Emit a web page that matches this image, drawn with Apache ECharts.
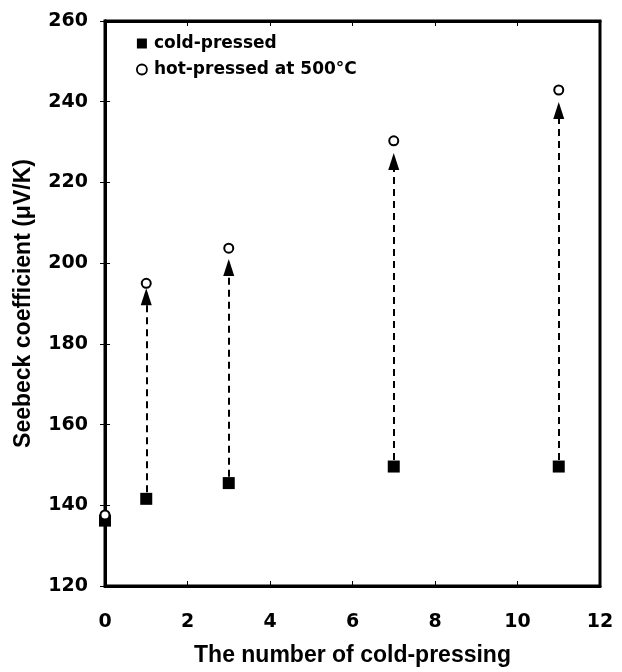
<!DOCTYPE html>
<html>
<head>
<meta charset="utf-8">
<script src="https://cdn.jsdelivr.net/npm/echarts@6/dist/echarts.min.js"></script>
<style>html,body{margin:0;padding:0;background:#fff}#c{width:622px;height:672px}</style>
</head>
<body>
<div id="c"></div>
<script>
var pressings = [0, 1, 3, 7, 11];
var coldPressed = [136.2, 141.6, 145.5, 149.6, 149.6];
var hotPressed = [137.6, 195.0, 203.7, 230.3, 242.9];
// arrow tips (null = no arrow)
var arrowTips = [null, 193.8, 201.0, 227.3, 239.9];
var xTicks = [0, 2, 4, 6, 8, 10, 12];
var yTicks = [120, 140, 160, 180, 200, 220, 240, 260];

var FONT = 'Liberation Sans';
var TICKFONT = 'DejaVu Sans';
var arrowLines = [];
var arrowHeads = [];
for (var i = 0; i < pressings.length; i++) {
  if (arrowTips[i] !== null) {
    arrowLines.push({coords: [[pressings[i], coldPressed[i] + 1.6], [pressings[i], arrowTips[i] - 2]]});
    arrowHeads.push([pressings[i], arrowTips[i]]);
  }
}

var tickStyle = {inside: true, length: 5, lineStyle: {color: '#000', width: 1}};
var labelStyle = {fontFamily: TICKFONT, fontWeight: 'bold', fontSize: 19, color: '#000'};
var titleStyle = {fontFamily: FONT, fontWeight: 'bold', fontSize: 23, color: '#000'};

var chart = echarts.init(document.getElementById('c'));
chart.setOption({
  animation: false,
  backgroundColor: '#fff',
  grid: {left: 105, right: 22, top: 21, bottom: 86, show: true, borderColor: '#000', borderWidth: 3, backgroundColor: 'transparent'},
  legend: {
    orient: 'vertical', left: 131, top: 30, itemGap: 9, itemWidth: 10, itemHeight: 10,
    data: [
      {name: 'cold-pressed', icon: 'rect', itemStyle: {color: '#000'}},
      {name: 'hot-pressed', icon: 'circle', itemStyle: {color: '#fff', borderColor: '#000', borderWidth: 1.8}}
    ],
    formatter: function (n) { return n === 'cold-pressed' ? 'cold-pressed' : 'hot-pressed at 500\u00b0C'; },
    textStyle: {fontFamily: TICKFONT, fontWeight: 'bold', fontSize: 17, color: '#000', padding: [0, 0, 0, 2]}
  },
  xAxis: [{
    type: 'value', min: xTicks[0], max: xTicks[xTicks.length - 1], interval: 2,
    name: 'The number of cold-pressing', nameLocation: 'middle', nameGap: 58,
    nameTextStyle: titleStyle,
    axisLine: {lineStyle: {color: '#000', width: 3}},
    axisTick: tickStyle,
    splitLine: {show: false},
    axisLabel: Object.assign({margin: 27}, labelStyle)
  }, {
    type: 'value', position: 'top', min: xTicks[0], max: xTicks[xTicks.length - 1], interval: 2,
    axisLine: {lineStyle: {color: '#000', width: 3}},
    axisTick: tickStyle, axisLabel: {show: false}, splitLine: {show: false}
  }],
  yAxis: [{
    type: 'value', min: yTicks[0], max: yTicks[yTicks.length - 1], interval: 20,
    name: 'Seebeck coefficient (\u03bcV/K)', nameLocation: 'middle', nameGap: 70,
    nameTextStyle: titleStyle,
    axisLine: {lineStyle: {color: '#000', width: 3}},
    axisTick: tickStyle,
    splitLine: {show: false},
    axisLabel: Object.assign({margin: 17}, labelStyle)
  }, {
    type: 'value', position: 'right', min: yTicks[0], max: yTicks[yTicks.length - 1], interval: 20,
    axisLine: {lineStyle: {color: '#000', width: 3}},
    axisTick: tickStyle, axisLabel: {show: false}, splitLine: {show: false}
  }],
  series: [
    {
      type: 'lines', coordinateSystem: 'cartesian2d', z: 2,
      symbol: ['none', 'none'],
      lineStyle: {color: '#000', width: 2, type: [7, 5], opacity: 1},
      data: arrowLines
    },
    {
      type: 'scatter', symbol: 'triangle', symbolSize: [11, 17], symbolOffset: [0, '50%'], z: 3,
      itemStyle: {color: '#000', opacity: 1}, silent: true,
      data: arrowHeads
    },
    {
      name: 'cold-pressed', type: 'scatter', symbol: 'rect', symbolSize: 12, z: 3,
      itemStyle: {color: '#000', opacity: 1},
      data: pressings.map(function (x, i) { return [x, coldPressed[i]]; })
    },
    {
      name: 'hot-pressed', type: 'scatter', symbol: 'circle', symbolSize: 9, z: 4,
      itemStyle: {color: '#fff', borderColor: '#000', borderWidth: 2, opacity: 1},
      data: pressings.map(function (x, i) { return [x, hotPressed[i]]; })
    }
  ]
});
</script>
</body>
</html>
